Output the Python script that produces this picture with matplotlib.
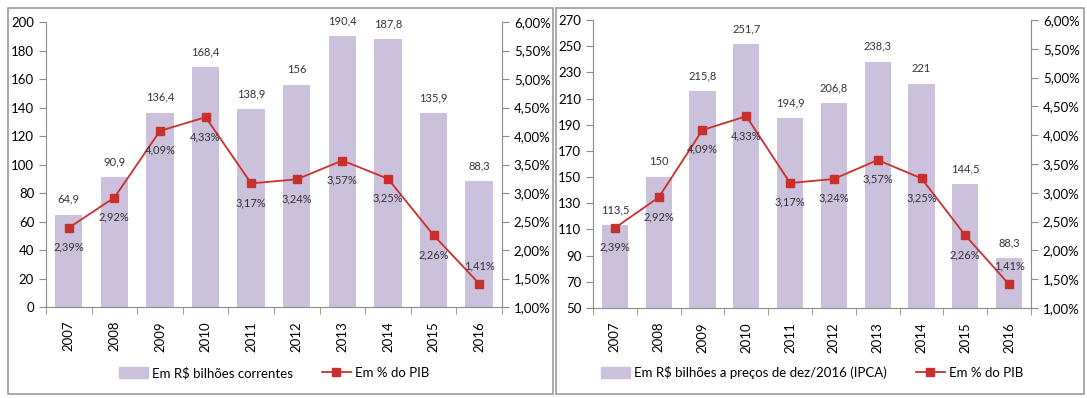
import numpy as np
import matplotlib.pyplot as plt
from matplotlib.patches import Rectangle
from matplotlib.lines import Line2D

plt.rcParams['font.family'] = ['Lato', 'DejaVu Sans']

anos = ['2007', '2008', '2009', '2010', '2011', '2012', '2013', '2014', '2015', '2016']
correntes = [64.9, 90.9, 136.4, 168.4, 138.9, 156, 190.4, 187.8, 135.9, 88.3]
ipca = [113.5, 150, 215.8, 251.7, 194.9, 206.8, 238.3, 221, 144.5, 88.3]
pct_pib = [2.39, 2.92, 4.09, 4.33, 3.17, 3.24, 3.57, 3.25, 2.26, 1.41]

bar_color = '#cbc1dc'
line_color = '#c8302c'
grey = '#8c8c8c'


def fmt(v):
    s = ('%g' % v).replace('.', ',')
    return s


def painel(fig, rect, valores, ylim, yticks, legenda):
    ax = fig.add_axes(rect)
    x = np.arange(len(anos))
    ax.bar(x, valores, width=0.6, color=bar_color, bottom=0, zorder=1)
    ax.set_ylim(*ylim)
    ax.set_xlim(-0.5, len(anos) - 0.5)
    ax.set_yticks(yticks)
    ax.set_yticklabels([str(t) for t in yticks], fontsize=9.5)
    ax.set_xticks(x)
    ax.set_xticklabels(anos, rotation=90, fontsize=9.5)
    ax.set_xticks(np.arange(-0.5, len(anos)), minor=True)
    ax.tick_params(axis='x', which='major', length=0, pad=10)
    ax.tick_params(axis='x', which='minor', length=5, color=grey, direction='out')
    ax.tick_params(axis='y', length=5, color=grey, direction='out')
    ax.spines['top'].set_visible(False)
    ax.spines['right'].set_visible(False)
    for s in ['left', 'bottom']:
        ax.spines[s].set_color(grey)
    for xi, v in zip(x, valores):
        ax.annotate(fmt(v), (xi, v), xytext=(0, 7), textcoords='offset points',
                    ha='center', va='bottom', fontsize=8, color='#333333')

    ax2 = ax.twinx()
    ax2.plot(x, pct_pib, color=line_color, lw=1.3, marker='s', ms=6, zorder=3)
    ax2.set_ylim(1, 6)
    pt = np.arange(1, 6.01, 0.5)
    ax2.set_yticks(pt)
    ax2.set_yticklabels([('%.2f%%' % t).replace('.', ',') for t in pt], fontsize=9.5)
    ax2.tick_params(axis='y', length=5, color=grey, direction='out')
    for s in ['top', 'left', 'bottom']:
        ax2.spines[s].set_visible(False)
    ax2.spines['right'].set_color(grey)
    for i, (xi, p) in enumerate(zip(x, pct_pib)):
        off = (0, 9) if i == len(anos) - 1 else (0, -10)
        va = 'bottom' if i == len(anos) - 1 else 'top'
        ax2.annotate(('%.2f%%' % p).replace('.', ','), (xi, p), xytext=off,
                     textcoords='offset points', ha='center', va=va,
                     fontsize=8, color='#333333')

    handles = [Rectangle((0, 0), 1, 1, color=bar_color),
               Line2D([], [], color=line_color, marker='s', ms=6, lw=1.3)]
    fig.legend(handles, [legenda, 'Em % do PIB'], loc='center',
               bbox_to_anchor=(rect[0] + rect[2] / 2, 0.063), ncol=2, frameon=False,
               fontsize=9.5, handlelength=2.2, handleheight=0.9, columnspacing=2.2,
               handletextpad=0.3)
    return ax


fig = plt.figure(figsize=(10.87, 3.98), dpi=100)

painel(fig, [0.0423, 0.2286, 0.4195, 0.7161], correntes, (0, 200),
       list(range(0, 201, 20)), 'Em R$ bilhões correntes')
painel(fig, [0.5455, 0.2261, 0.403, 0.7236], ipca, (50, 270),
       list(range(50, 271, 20)), 'Em R$ bilhões a preços de dez/2016 (IPCA)')

W, H = 1087, 398
for x0, x1 in [(8, 553), (556, 1084)]:
    fig.add_artist(Rectangle((x0 / W, 1 - 394 / H), (x1 - x0) / W, (394 - 8) / H,
                             transform=fig.transFigure, fill=False,
                             edgecolor='#9a9a9a', lw=1.2))

fig.savefig('out.png', dpi=100)
